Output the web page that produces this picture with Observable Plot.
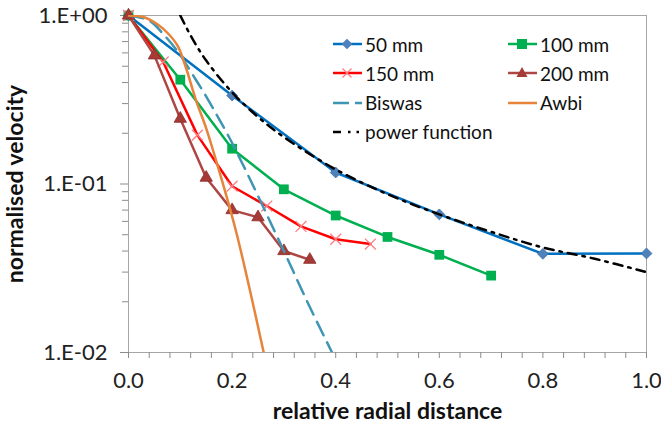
<!DOCTYPE html>
<html><head><meta charset="utf-8">
<script src="https://cdn.jsdelivr.net/npm/d3@7"></script>
<script src="https://cdn.jsdelivr.net/npm/@observablehq/plot@0.6"></script>
<style>
body{margin:0;background:#fff;}
#wrap{position:relative;width:661px;height:431px;font-family:Lato,sans-serif;}
.leg{position:absolute;display:flex;align-items:center;font-size:19px;color:#111;white-space:nowrap;height:24px;}
.leg svg{margin-right:3px;overflow:visible}
</style></head><body><div id="wrap"></div>
<script>
// ---- data ----
const x50 = [0, 0.2, 0.4, 0.6, 0.8, 1.0];
const v50 = [1, 0.335, 0.117, 0.066, 0.0385, 0.0387];
const x100 = [0, 0.1, 0.2, 0.3, 0.4, 0.5, 0.6, 0.7];
const v100 = [1, 0.416, 0.162, 0.093, 0.065, 0.0485, 0.038, 0.0286];
const x150 = [0, 0.067, 0.133, 0.2, 0.267, 0.333, 0.4, 0.467];
const v150 = [1, 0.53, 0.195, 0.097, 0.074, 0.056, 0.047, 0.044];
const x200 = [0, 0.05, 0.1, 0.15, 0.2, 0.25, 0.3, 0.35];
const v200 = [1, 0.58, 0.244, 0.109, 0.070, 0.0635, 0.040, 0.0355];
const xBiswas = [0, 0.04, 0.068, 0.097, 0.123, 0.149, 0.171, 0.194, 0.22, 0.25, 0.3, 0.35, 0.393];
const vBiswas = [1, 0.933, 0.77, 0.60, 0.45, 0.335, 0.255, 0.19, 0.132, 0.085, 0.040, 0.0186, 0.01];
const xAwbi = [0, 0.03, 0.055, 0.075, 0.095, 0.11, 0.13, 0.15, 0.17, 0.19, 0.21, 0.235, 0.261];
const vAwbi = [1, 0.977, 0.89, 0.79, 0.66, 0.50, 0.316, 0.214, 0.135, 0.083, 0.049, 0.023, 0.0100];
const xPower = [0.1, 0.12, 0.15, 0.2, 0.25, 0.3, 0.4, 0.5, 0.6, 0.7, 0.8, 0.9, 1.0];
const vPower = [1.0, 0.76, 0.54, 0.35, 0.25, 0.19, 0.122, 0.087, 0.066, 0.052, 0.042, 0.036, 0.030];

const xTickLabels = [0, 0.2, 0.4, 0.6, 0.8, 1.0];
const xMinorTicks = d3.range(26).map(i => i * 0.04);
const yTickLabels = [1, 0.1, 0.01];
const yTickText = ["1.E+00", "1.E-01", "1.E-02"];
const yMinorTicks = [2,3,4,5,6,7,8,9].flatMap(m => [m * 0.01, m * 0.1]);

const seriesNames = ["50 mm", "100 mm", "150 mm", "200 mm", "Biswas", "Awbi", "power function"];

const rows = (xs, vs) => xs.map((x, i) => ({x, v: vs[i]}));
const d50 = rows(x50, v50), d100 = rows(x100, v100), d150 = rows(x150, v150), d200 = rows(x200, v200);
const dB = rows(xBiswas, vBiswas), dA = rows(xAwbi, vAwbi), dP = rows(xPower, vPower);

const C = {
  blue: "#0070C0", blueM: "#4F81BD",
  green: "#00B050",
  red: "#FF0000", redM: "#FF7C80",
  brown: "#AE4744", brownM: "#A63A37",
  teal: "#3E96B4", orange: "#E5843A", black: "#000"
};

const chart = Plot.plot({
  width: 661, height: 431,
  marginLeft: 128, marginRight: 15, marginTop: 15, marginBottom: 79,
  style: {fontFamily: "Lato, sans-serif", background: "#fff", overflow: "visible"},
  x: {domain: [0, 1], label: null},
  y: {type: "log", domain: [0.01, 1], label: null},
  marks: [
    Plot.frame({stroke: "#a6a6a6"}),
    Plot.axisX({ticks: xMinorTicks, tickSize: 6, tickFormat: () => "", stroke: "#8c8c8c", label: null}),
    Plot.axisX({ticks: xTickLabels, tickSize: 0, tickPadding: 20, tickFormat: d3.format(".1f"), fontSize: 22, fill: "#222", label: null}),
    Plot.axisY({ticks: yMinorTicks, tickSize: 6, tickFormat: () => "", stroke: "#8c8c8c", label: null}),
    Plot.axisY({ticks: yTickLabels, tickSize: 8, tickPadding: 13, tickFormat: (d) => yTickText[yTickLabels.indexOf(d)], fontSize: 22, fill: "#222", stroke: "#8c8c8c", label: null}),
    Plot.text(["relative radial distance"], {text: d => d, frameAnchor: "bottom", textAnchor: "middle", lineAnchor: "middle", dy: 59, fontSize: 23, fontWeight: "bold", fill: "#111"}),
    Plot.text(["normalised velocity"], {text: d => d, frameAnchor: "left", textAnchor: "middle", lineAnchor: "middle", dx: -113, rotate: -90, fontSize: 23, fontWeight: "bold", fill: "#111"}),
    // 50 mm
    Plot.line(d50, {x: "x", y: "v", stroke: C.blue, strokeWidth: 2.5}),
    Plot.dot(d50, {x: "x", y: "v", symbol: "square", r: 4.3, rotate: 45, fill: C.blueM, stroke: "#3f6fa8", strokeWidth: 0.8}),
    // 100 mm
    Plot.line(d100, {x: "x", y: "v", stroke: C.green, strokeWidth: 2.5}),
    Plot.dot(d100, {x: "x", y: "v", symbol: "square", r: 5.5, fill: C.green, stroke: "none"}),
    // 150 mm
    Plot.line(d150, {x: "x", y: "v", stroke: C.red, strokeWidth: 2.5}),
    Plot.dot(d150, {x: "x", y: "v", symbol: "times", r: 5, stroke: C.redM, strokeWidth: 1.3, fill: "none"}),
    // 200 mm
    Plot.line(d200, {x: "x", y: "v", stroke: C.brown, strokeWidth: 2.5}),
    Plot.dot(d200, {x: "x", y: "v", symbol: "triangle", r: 4.6, fill: C.brownM, stroke: "#8e2f2c", strokeWidth: 0.8}),
    // Biswas
    Plot.line(dB, {x: "x", y: "v", stroke: C.teal, strokeWidth: 2.5, strokeDasharray: "15,8", curve: "catmull-rom", clip: true}),
    // Awbi
    Plot.line(dA, {x: "x", y: "v", stroke: C.orange, strokeWidth: 2.5, curve: "catmull-rom", clip: true}),
    // power function
    Plot.line(dP, {x: "x", y: "v", stroke: C.black, strokeWidth: 2.5, strokeDasharray: "9,6,2.5,6", curve: "catmull-rom", clip: true})
  ]
});
const wrap = document.getElementById("wrap");
wrap.appendChild(chart);

// legend (HTML overlay)
const legendItems = [
  {name: seriesNames[0], col: 0, row: 0, stroke: C.blue, marker: "diamond", mfill: C.blueM},
  {name: seriesNames[1], col: 1, row: 0, stroke: C.green, marker: "square", mfill: C.green},
  {name: seriesNames[2], col: 0, row: 1, stroke: C.red, marker: "times", mfill: C.redM},
  {name: seriesNames[3], col: 1, row: 1, stroke: C.brown, marker: "triangle", mfill: C.brownM},
  {name: seriesNames[4], col: 0, row: 2, stroke: C.teal, dash: "16,6"},
  {name: seriesNames[5], col: 1, row: 2, stroke: C.orange},
  {name: seriesNames[6], col: 0, row: 3, stroke: C.black, dash: "8,7,2.5,6,2.5,10"}
];
const colX = [333, 508];
const rowY = [44, 73, 102.5, 131.5];
for (const it of legendItems) {
  const div = document.createElement("div");
  div.className = "leg";
  div.style.left = colX[it.col] + "px";
  div.style.top = (rowY[it.row] - 12) + "px";
  let m = "";
  if (it.marker === "diamond") m = `<rect x="10.2" y="-3.8" width="7.6" height="7.6" transform="rotate(45 14 0)" fill="${it.mfill}"/>`;
  if (it.marker === "square") m = `<rect x="9" y="-5" width="10" height="10" fill="${it.mfill}"/>`;
  if (it.marker === "times") m = `<path d="M9.5,-4.5L18.5,4.5M9.5,4.5L18.5,-4.5" stroke="${it.mfill}" stroke-width="1.3"/>`;
  if (it.marker === "triangle") m = `<path d="M14,-6L19.5,4L8.5,4Z" fill="${it.mfill}"/>`;
  div.innerHTML = `<svg width="29" height="24" viewBox="0 -12 29 24"><line x1="0" x2="29" y1="0" y2="0" stroke="${it.stroke}" stroke-width="2.5" ${it.dash ? `stroke-dasharray="${it.dash}"` : ""}/>${m}</svg><span>${it.name}</span>`;
  wrap.appendChild(div);
}
</script>
</body></html>
